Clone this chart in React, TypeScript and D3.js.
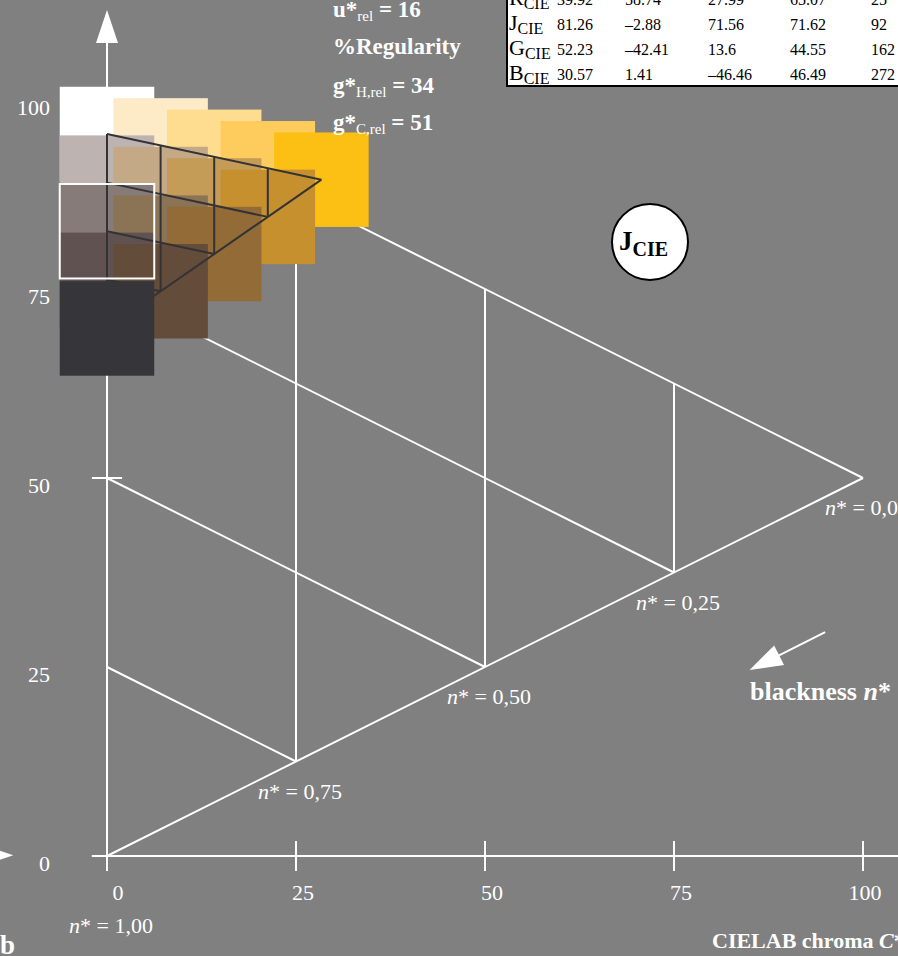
import React from 'react';
import * as d3 from 'd3';

const W = 898;
const H = 956;
const BG = '#808080';
const FONT = "'Liberation Serif', 'Times New Roman', serif";

// axes
const chromaTicks = [0, 25, 50, 75, 100];
const lightnessTicks = [0, 25, 50, 75, 100];
const lightnessTickMarks = [0, 50, 100];
// triangle grid (CIELAB chroma / lightness)
const gridSteps = [25, 50, 75];
const nStarChroma = [0, 25, 50, 75, 100];
const nStarLabels = ['1,00', '0,75', '0,50', '0,25', '0,00'];

// table
const tableNames = ['R', 'J', 'G', 'B'];
const tableL = ['39.92', '81.26', '52.23', '30.57'];
const tableA = ['58.74', '–2.88', '–42.41', '1.41'];
const tableB = ['27.99', '71.56', '13.6', '–46.46'];
const tableC = ['65.07', '71.62', '44.55', '46.49'];
const tableH = ['25', '92', '162', '272'];

// colour swatches, rows from white edge down to black
const swatchRows = [
  ['#ffffff', '#fdebc8', '#fedc90', '#fecc5c', '#fcbf14'],
  ['#bdb3b1', '#c4a986', '#c59b58', '#c6902e'],
  ['#867b79', '#8b7356', '#936b37'],
  ['#5f5250', '#644c3a'],
  ['#363539'],
];
const gridOrigin = [0, 95.5];
const gridColStep = [7.09, -1.51];
const gridRowStep = -6.43;
const swatchSize = 12.5;
const highlightCell = [0, 2];

const metricNames = ['u*', '%Regularity', 'g*', 'g*'];
const metricSubs = ['rel', '', 'H,rel', 'C,rel'];
const metricValues = ['16', '', '34', '51'];

const blacknessArrow = { from: [95, 29.6], to: [85, 24.6] };
const yArrowTip = [0, 111.9];
const leftArrowTip = [-12.4, 0.1];

export default function App() {
  const x = d3.scaleLinear().domain([0, 100]).range([107, 863]);
  const y = d3.scaleLinear().domain([0, 100]).range([856, 100]);
  const px = (c: number, l: number): [number, number] => [x(c), y(l)];

  const arrowHead = (tip: [number, number], dirx: number, diry: number, len = 33, hw = 11) => {
    const n = Math.hypot(dirx, diry);
    const ux = dirx / n, uy = diry / n;
    const bx = tip[0] - ux * len, by = tip[1] - uy * len;
    const p1 = [bx - uy * hw, by + ux * hw];
    const p2 = [bx + uy * hw, by - ux * hw];
    return `M${tip[0]},${tip[1]}L${p1[0]},${p1[1]}L${p2[0]},${p2[1]}Z`;
  };

  const line = d3.line();
  const whiteSegs: [number, number][][] = [];
  whiteSegs.push([px(0, 100), px(100, 50)]);
  whiteSegs.push([px(0, 0), px(100, 50)]);
  gridSteps.forEach((k) => {
    whiteSegs.push([px(k, k / 2), px(k, 100 - k / 2)]);
    whiteSegs.push([px(0, k), px(k, k / 2)]);
  });

  const n = swatchRows.length - 1;
  const node = (j: number, i: number): [number, number] =>
    px(gridOrigin[0] + j * gridColStep[0], gridOrigin[1] + j * gridColStep[1] + i * gridRowStep);
  const sq = x(swatchSize) - x(0);

  const darkSegs: [number, number][][] = [];
  for (let i = 0; i < n; i++) darkSegs.push([node(0, i), node(n - i, i)]);
  for (let j = 0; j < n; j++) darkSegs.push([node(j, 0), node(j, n - j)]);
  darkSegs.push([node(0, n), node(n, 0)]);

  const yArrow = px(yArrowTip[0], yArrowTip[1]);
  const lArrow = px(leftArrowTip[0], leftArrowTip[1]);
  const bFrom = px(blacknessArrow.from[0], blacknessArrow.from[1]);
  const bTo = px(blacknessArrow.to[0], blacknessArrow.to[1]);

  const hl = node(highlightCell[0], highlightCell[1]);
  const tableCols = [557, 625, 708, 790, 871];
  const tableVals = [tableL, tableA, tableB, tableC, tableH];
  const metricY = [17, 54, 93, 130];

  const swatch = (i: number) =>
    swatchRows[i].map((col, j) => {
      const c = node(j, i);
      return <rect key={`s${i}-${j}`} x={c[0] - sq / 2} y={c[1] - sq / 2} width={sq} height={sq} fill={col} />;
    });

  return (
    <svg width={W} height={H} style={{ position: 'absolute', left: 0, top: 0, display: 'block' }} fontFamily={FONT}>
      <rect x={0} y={0} width={W} height={H} fill={BG} />
      {/* white triangle grid */}
      {whiteSegs.map((s, k) => (
        <path key={'w' + k} d={line(s) || ''} stroke="#fff" strokeWidth={2} fill="none" />
      ))}
      {/* axes */}
      <line x1={x(0)} x2={x(0)} y1={y(0)} y2={yArrow[1] + 30} stroke="#fff" strokeWidth={2} />
      <path d={arrowHead(yArrow, 0, -1)} fill="#fff" />
      <line x1={x(-2)} x2={W} y1={y(0)} y2={y(0)} stroke="#fff" strokeWidth={2} />
      <path d={arrowHead(lArrow, 1, 0)} fill="#fff" />
      {chromaTicks.map((t) => (
        <line key={'xt' + t} x1={x(t)} x2={x(t)} y1={y(0) - 15} y2={y(0) + 15} stroke="#fff" strokeWidth={2} />
      ))}
      {lightnessTickMarks.map((t) => (
        <line key={'yt' + t} x1={x(-2)} x2={x(2)} y1={y(t)} y2={y(t)} stroke="#fff" strokeWidth={2} />
      ))}
      {chromaTicks.map((t) => (
        <text key={'xl' + t} x={x(t) + (t === 0 ? 11 : t === 100 ? 2 : 7)} y={y(0) + 44} fontSize={22} fill="#fff" textAnchor="middle">{t}</text>
      ))}
      {lightnessTicks.map((t) => (
        <text key={'yl' + t} x={50} y={y(t) + 15} fontSize={22} fill="#fff" textAnchor="end">{t}</text>
      ))}
      {/* n* labels */}
      {nStarChroma.map((c, k) => {
        const p = px(c, c / 2);
        const yy = c === 0 ? p[1] + 77 : p[1] + 37;
        return (
          <text key={'n' + k} x={p[0] - 38} y={yy} fontSize={22} fill="#fff">
            <tspan fontStyle="italic">n</tspan>* = {nStarLabels[k]}
          </text>
        );
      })}
      {/* swatches */}
      {swatchRows.slice(0, n).map((_, i) => swatch(i))}
      {darkSegs.map((s, k) => (
        <path key={'d' + k} d={line(s) || ''} stroke="#333336" strokeWidth={2} fill="none" />
      ))}
      {swatch(n)}
      <rect x={hl[0] - sq / 2} y={hl[1] - sq / 2} width={sq} height={sq} fill="none" stroke="#fff" strokeWidth={2} />
      {/* metrics */}
      {metricNames.map((m, k) => (
        <text key={'m' + k} x={333} y={metricY[k]} fontSize={23} fontWeight="bold" fill="#fff">
          {m}
          {metricSubs[k] && <tspan fontSize={15} fontWeight="normal" dy={4}>{metricSubs[k]}</tspan>}
          {metricValues[k] && <tspan dy={-4}> = {metricValues[k]}</tspan>}
        </text>
      ))}
      {/* table */}
      <rect x={507} y={-20} width={420} height={106} fill="#fff" stroke="#000" strokeWidth={2} />
      {tableNames.map((nm, r) => {
        const base = 5 + r * 25;
        return (
          <g key={'tr' + r}>
            <text x={509} y={base} fontSize={22} fill="#000">
              {nm}
              <tspan fontSize={16} dy={4}>CIE</tspan>
            </text>
            {tableCols.map((cx, ci) => (
              <text key={ci} x={cx} y={base} fontSize={16} fill="#000">{tableVals[ci][r]}</text>
            ))}
          </g>
        );
      })}
      {/* J_CIE circle */}
      <circle cx={650} cy={242} r={38} fill="#fff" stroke="#000" strokeWidth={2} />
      <text x={619} y={250} fontSize={27} fontWeight="bold" fill="#000">
        J<tspan fontSize={20} dy={6}>CIE</tspan>
      </text>
      {/* blackness arrow */}
      <line x1={bFrom[0]} y1={bFrom[1]} x2={bTo[0] + (bFrom[0] - bTo[0]) * 0.35} y2={bTo[1] + (bFrom[1] - bTo[1]) * 0.35} stroke="#fff" strokeWidth={2} />
      <path d={arrowHead(bTo, bTo[0] - bFrom[0], bTo[1] - bFrom[1])} fill="#fff" />
      <text x={750} y={700} fontSize={26} fontWeight="bold" fill="#fff">
        blackness <tspan fontStyle="italic">n</tspan>*
      </text>
      <text x={712} y={948} fontSize={22} fontWeight="bold" fill="#fff">
        CIELAB chroma <tspan fontStyle="italic">C</tspan>*<tspan fontSize={15} dy={4}>ab</tspan>
      </text>
      <text x={0} y={954} fontSize={27} fontWeight="bold" fill="#fff">b</text>
    </svg>
  );
}
